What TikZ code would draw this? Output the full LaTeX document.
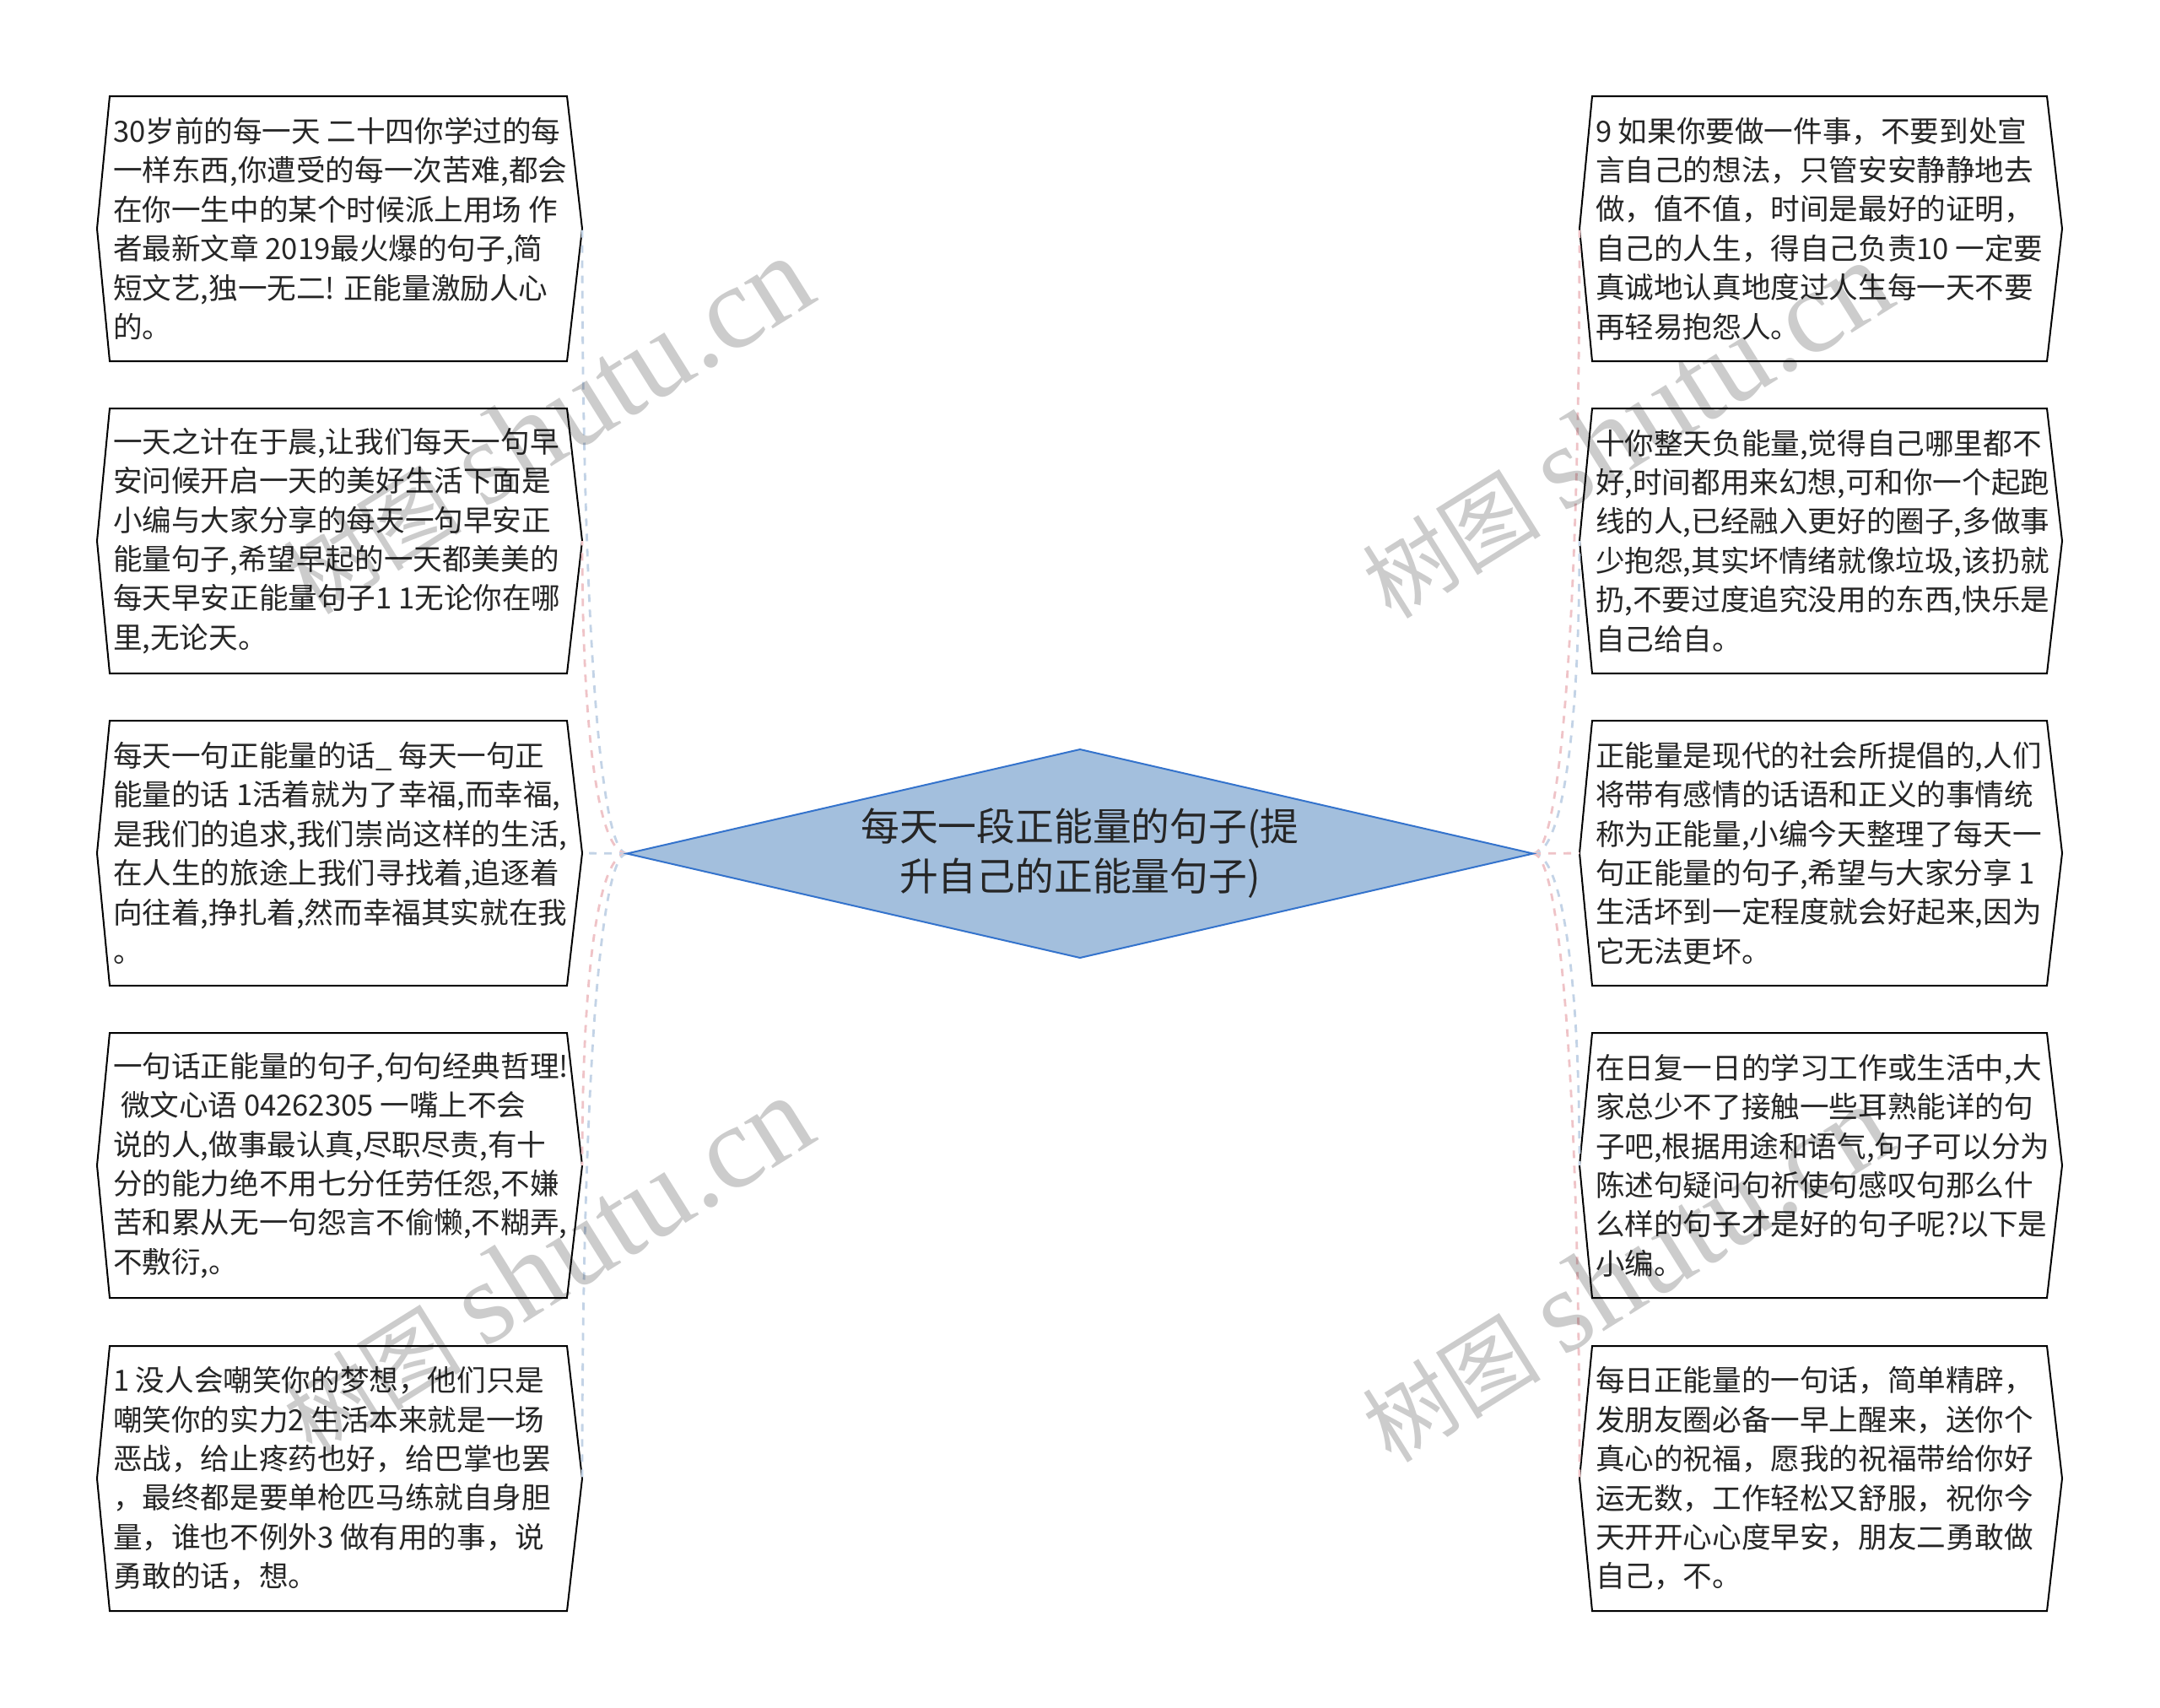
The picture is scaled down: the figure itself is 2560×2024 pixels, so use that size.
\documentclass[tikz,border=0pt]{standalone}
\usepackage{fontspec}
\newfontfamily\cjk{Noto Sans CJK SC}
\newfontfamily\wmlatin{Liberation Serif}
\usetikzlibrary{calc}
\definecolor{linkblue}{HTML}{C3D3E6}
\definecolor{linkpink}{HTML}{EFC3C7}
\definecolor{dfill}{HTML}{A3BFDD}
\definecolor{dline}{HTML}{3473CC}
\definecolor{txtc}{HTML}{262626}
\tikzset{
  boxshape/.style={rectangle, inner sep=0pt, outer sep=0pt, minimum height=157pt},
  boxline/.style={draw=black, line width=1pt, fill=white, line join=miter},
  boxtext/.style={inner sep=0pt, outer sep=0pt, align=left, text=txtc,
    font=\cjk\fontsize{17.3pt}{23.2pt}\selectfont},
  link/.style={line width=1.4pt, dash pattern=on 4.5pt off 4.5pt},
  hiddenbox/.style={rectangle, inner sep=0pt, outer sep=0pt},
  centertext/.style={inner sep=0pt, align=center, text=txtc,
    font=\cjk\fontsize{22.9pt}{29.5pt}\selectfont},
  wm/.style={inner sep=0pt, text=black, text opacity=0.2, rotate=32},
}
\newcommand\mmbox[5]{%
  \node[boxshape, minimum width=#4] (#1) at (#2,#3) {};
  \draw[boxline] (#1.north west) -- (#1.north east) -- ([xshift=9pt]#1.east)
    -- (#1.south east) -- (#1.south west) -- ([xshift=-7.5pt]#1.west) -- cycle;
  \coordinate (#1L) at ([xshift=-7.5pt]#1.west);
  \coordinate (#1R) at ([xshift=9pt]#1.east);
  \node[boxtext, anchor=west] (#1t) at ([xshift=2pt]#1.west) {#5};
}
\newcommand\wmtext{{\cjk\fontsize{53pt}{53pt}\selectfont 树图}\hspace{14pt}{\wmlatin\fontsize{70pt}{70pt}\selectfont shutu.cn}}
\begin{document}
\begin{tikzpicture}[x=0.5pt, y=-0.5pt]
\fill[white] (0,0) rectangle (2560,2024);
\useasboundingbox (0,0) rectangle (2560,2024);

% left boxes
\mmbox{L1}{401}{271}{271pt}{30岁前的每一天 二十四你学过的每\\一样东西,你遭受的每一次苦难,都会\\在你一生中的某个时候派上用场 作\\者最新文章 2019最火爆的句子,简\\短文艺,独一无二! 正能量激励人心\\的。}
\mmbox{L2}{401}{641}{271pt}{一天之计在于晨,让我们每天一句早\\安问候开启一天的美好生活下面是\\小编与大家分享的每天一句早安正\\能量句子,希望早起的一天都美美的\\每天早安正能量句子1 1无论你在哪\\里,无论天。}
\mmbox{L3}{401}{1011}{271pt}{每天一句正能量的话\_ 每天一句正\\能量的话 1活着就为了幸福,而幸福,\\是我们的追求,我们崇尚这样的生活,\\在人生的旅途上我们寻找着,追逐着\\向往着,挣扎着,然而幸福其实就在我\\。}
\mmbox{L4}{401}{1381}{271pt}{一句话正能量的句子,句句经典哲理!\\\hspace*{4.5pt}微文心语 04262305 一嘴上不会\\说的人,做事最认真,尽职尽责,有十\\分的能力绝不用七分任劳任怨,不嫌\\苦和累从无一句怨言不偷懒,不糊弄,\\不敷衍,。}
\mmbox{L5}{401}{1752}{271pt}{1 没人会嘲笑你的梦想，他们只是\\嘲笑你的实力2 生活本来就是一场\\恶战，给止疼药也好，给巴掌也罢\\，最终都是要单枪匹马练就自身胆\\量，谁也不例外3 做有用的事，说\\勇敢的话，想。}

% right boxes
\mmbox{R1}{2156.5}{271}{269.5pt}{9 如果你要做一件事，不要到处宣\\言自己的想法，只管安安静静地去\\做，值不值，时间是最好的证明，\\自己的人生，得自己负责10 一定要\\真诚地认真地度过人生每一天不要\\再轻易抱怨人。}
\mmbox{R2}{2156.5}{641}{269.5pt}{十你整天负能量,觉得自己哪里都不\\好,时间都用来幻想,可和你一个起跑\\线的人,已经融入更好的圈子,多做事\\少抱怨,其实坏情绪就像垃圾,该扔就\\扔,不要过度追究没用的东西,快乐是\\自己给自。}
\mmbox{R3}{2156.5}{1011}{269.5pt}{正能量是现代的社会所提倡的,人们\\将带有感情的话语和正义的事情统\\称为正能量,小编今天整理了每天一\\句正能量的句子,希望与大家分享 1\\生活坏到一定程度就会好起来,因为\\它无法更坏。}
\mmbox{R4}{2156.5}{1381}{269.5pt}{在日复一日的学习工作或生活中,大\\家总少不了接触一些耳熟能详的句\\子吧,根据用途和语气,句子可以分为\\陈述句疑问句祈使句感叹句那么什\\么样的句子才是好的句子呢?以下是\\小编。}
\mmbox{R5}{2156.5}{1752}{269.5pt}{每日正能量的一句话，简单精辟，\\发朋友圈必备一早上醒来，送你个\\真心的祝福，愿我的祝福带给你好\\运无数，工作轻松又舒服，祝你今\\天开开心心度早安，朋友二勇敢做\\自己，不。}

% center
\node[hiddenbox, minimum width=537pt, minimum height=123.5pt] (C) at (1280,1011.5) {};

% connectors
\draw[link, linkblue] (C.west) .. controls +(-35,0) and +(0,420) .. (L1R);
\draw[link, linkpink] (C.west) .. controls +(-35,0) and +(0,220) .. (L2R);
\draw[link, linkblue] (C.west) -- (L3R);
\draw[link, linkpink] (C.west) .. controls +(-35,0) and +(0,-220) .. (L4R);
\draw[link, linkblue] (C.west) .. controls +(-35,0) and +(0,-420) .. (L5R);
\draw[link, linkpink] (C.east) .. controls +(35,0) and +(0,420) .. (R1L);
\draw[link, linkblue] (C.east) .. controls +(35,0) and +(0,220) .. (R2L);
\draw[link, linkpink] (C.east) -- (R3L);
\draw[link, linkblue] (C.east) .. controls +(35,0) and +(0,-220) .. (R4L);
\draw[link, linkpink] (C.east) .. controls +(35,0) and +(0,-420) .. (R5L);

\filldraw[fill=dfill, draw=dline, line width=1pt] (C.north) -- (C.east) -- (C.south) -- (C.west) -- cycle;
\node[centertext] (Ct) at (C.center) {每天一段正能量的句子(提\\升自己的正能量句子)};

% watermarks
\node[wm] (wm1) at (648,505) {\wmtext};
\node[wm] (wm2) at (648,1500) {\wmtext};
\node[wm] (wm3) at (1927,510) {\wmtext};
\node[wm] (wm4) at (1927,1510) {\wmtext};
\end{tikzpicture}
\end{document}
